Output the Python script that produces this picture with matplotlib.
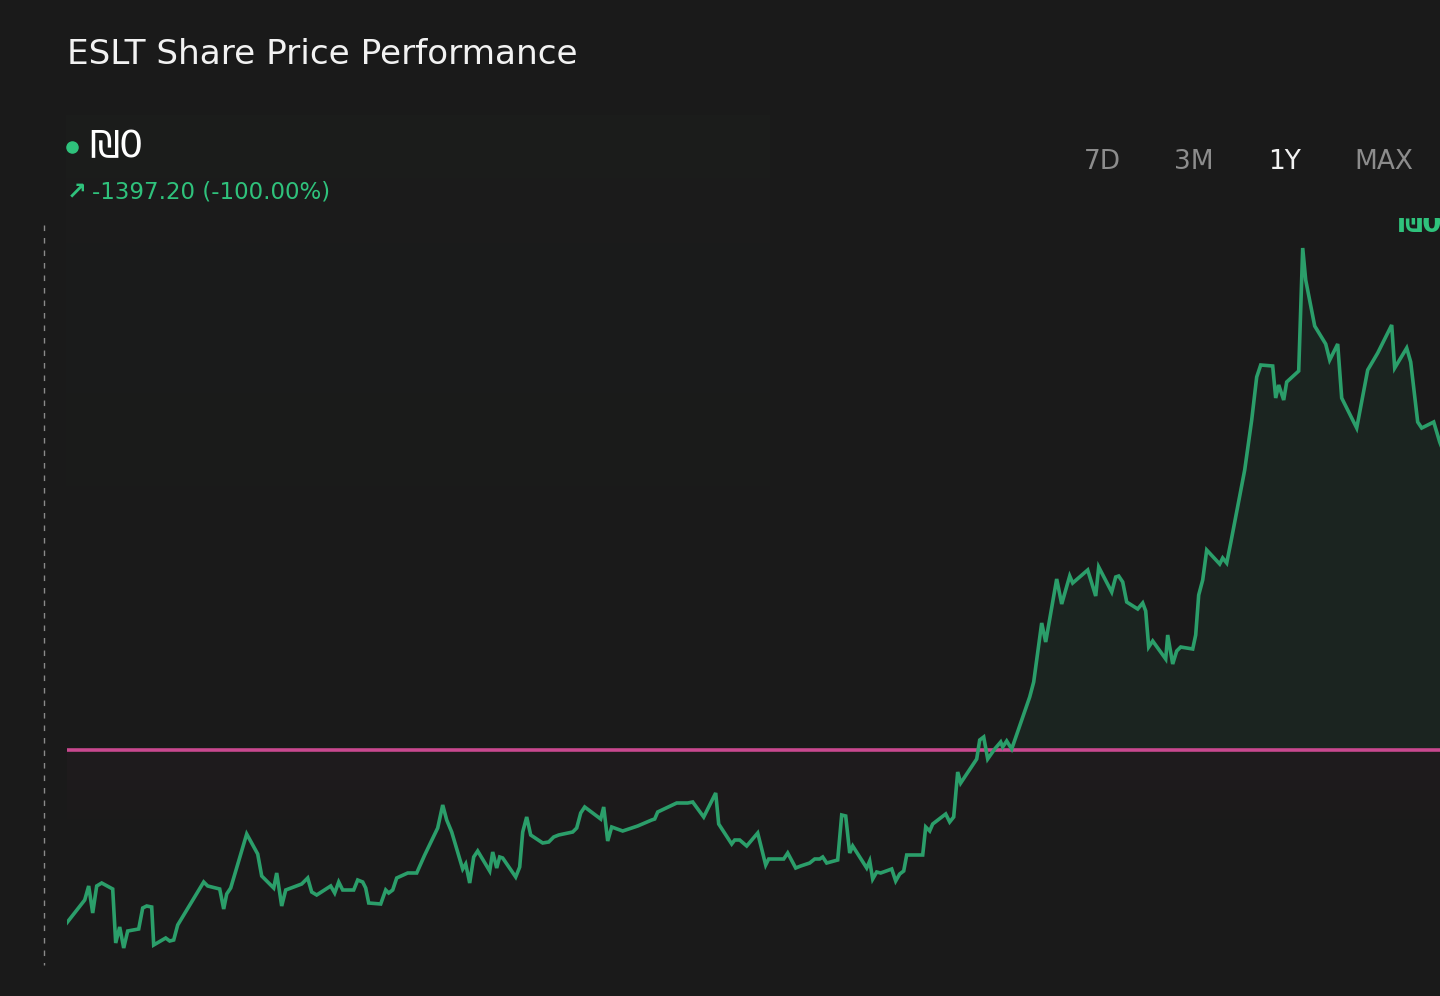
import numpy as np
import matplotlib.pyplot as plt
from matplotlib.lines import Line2D

# ESLT 1Y price series (time offset, price)
t = [0, 18, 22, 26, 30, 35, 46, 49, 53, 57, 61, 72, 76, 80, 85, 87, 99, 103, 107, 111,
     137, 141, 153, 157, 160, 164, 180, 186, 191, 195, 207, 210, 215, 219, 235, 241, 245,
     250, 264, 268, 272, 276, 287, 291, 296, 299, 302, 314, 319, 322, 326, 330, 341, 350,
     358, 371, 376, 380, 385, 396, 399, 403, 407, 411,
     423, 426, 430, 433, 436, 449, 453, 456, 460, 464, 476, 482, 487, 492, 506, 510, 514,
     518, 534, 537, 541, 545, 556, 571, 585, 588, 591, 610, 621, 626, 637, 649, 652, 665,
     668, 673, 680, 691, 699, 702, 717, 721, 729, 734, 743, 748, 753, 756, 760, 771, 775,
     779, 783, 786, 800, 803, 806, 810, 814, 825, 829, 833, 837, 840, 856, 859, 863, 866,
     879, 883, 887, 891, 894, 910, 913, 917, 921, 928, 934, 936, 940, 945, 963, 967, 975,
     979, 990, 995, 1003, 1006, 1021, 1029, 1032, 1045, 1049, 1052, 1056, 1060, 1071, 1076,
     1079, 1082, 1086, 1099, 1101, 1106, 1110, 1114, 1126, 1129, 1132, 1136, 1140,
     1153, 1156, 1160, 1164, 1178, 1185, 1190, 1194, 1206, 1209, 1212, 1217, 1220, 1232,
     1236, 1239, 1248, 1259, 1263, 1271, 1275, 1290, 1301, 1311, 1325, 1328, 1340, 1344,
     1351, 1355, 1367, 1373, 1380]
price = [1077, 1100, 1114, 1087, 1114, 1117, 1111, 1057, 1073, 1052, 1069, 1071, 1092, 1094,
         1093, 1055, 1062, 1059, 1060, 1075, 1118, 1114, 1111, 1091, 1106, 1112, 1166, 1155,
         1146, 1124, 1112, 1127, 1094, 1110, 1116, 1122, 1108, 1105, 1114, 1107, 1118, 1110,
         1110, 1120, 1118, 1112, 1097, 1096, 1110, 1107, 1110, 1122, 1127, 1127, 1145, 1172,
         1195, 1180, 1168, 1131, 1136, 1117, 1143, 1149,
         1129, 1148, 1132, 1143, 1142, 1123, 1133, 1168, 1183, 1165, 1157, 1158, 1163, 1165,
         1168, 1172, 1187, 1193, 1181, 1193, 1159, 1173, 1169, 1174, 1180, 1181, 1188, 1197,
         1197, 1198, 1183, 1207, 1176, 1156, 1160, 1160, 1154, 1167, 1135, 1141, 1141, 1147,
         1132, 1134, 1137, 1141, 1141, 1143, 1137, 1140, 1185, 1184, 1147, 1154, 1132, 1139,
         1121, 1128, 1127, 1131, 1119, 1126, 1129, 1145, 1145, 1173, 1169, 1176, 1186, 1178,
         1183, 1228, 1217, 1241, 1260, 1263, 1241, 1251, 1258, 1253, 1259, 1251, 1303, 1318,
         1377, 1358, 1421, 1396, 1424, 1417, 1430, 1404, 1433, 1408, 1423, 1424, 1418, 1398,
         1391, 1397, 1389, 1353, 1359, 1341, 1365, 1336, 1349, 1353, 1351, 1365, 1405, 1420,
         1450,
         1436, 1442, 1437, 1457, 1530, 1580, 1623, 1635, 1634, 1602, 1615, 1600, 1618, 1629,
         1752, 1720, 1674, 1656, 1640, 1656, 1602, 1572, 1630, 1647, 1675, 1632, 1652, 1638,
         1578, 1572, 1578, 1558, 1540]
ref_price = 1250
ranges = ["7D", "3M", "1Y", "MAX"]
active_range = "1Y"

BG = "#1a1a1a"
GREEN = "#2b9e6a"
TXT_GREEN = "#2fc27c"
PINK = "#c9488f"

W, H = 1440, 996
fig = plt.figure(figsize=(W / 100, H / 100), dpi=100, facecolor=BG)


def fx(x):
    return x / W


def fy(y):
    return 1 - y / H


# very faint panel behind header / left part of the plot
bg_ax = fig.add_axes([fx(66), fy(830), fx(770 - 66), (830 - 115) / H])
bg_ax.set_axis_off()
grad = np.zeros((100, 2, 4))
grad[..., :3] = np.array([0.16, 0.2, 0.18])[None, None, :]
grad[..., 3] = np.linspace(0.09, 0.0, 100)[:, None]
bg_ax.imshow(grad, aspect="auto", extent=[0, 1, 0, 1])

ax = fig.add_axes([fx(66.7), fy(965), 1 - fx(66.7), (965 - 218) / H])
ax.set_facecolor("none")
t_arr = np.array(t)
p_arr = np.array(price)

ax.fill_between(t_arr, p_arr, ref_price, where=p_arr >= ref_price, interpolate=True,
                color=GREEN, alpha=0.08, lw=0)
# pinkish glow under the reference line
glow = np.zeros((60, 2, 4))
glow[..., :3] = np.array([0.79, 0.28, 0.56])[None, None, :]
glow[..., 3] = np.linspace(0.035, 0.0, 60)[:, None]
ax.imshow(glow, aspect="auto", extent=[0, 1400, ref_price - 90, ref_price], zorder=1)

ax.axhline(ref_price, color=PINK, lw=2.6, zorder=2)
ax.plot(t_arr, p_arr, color=GREEN, lw=2.6, solid_joinstyle="miter", zorder=3)
# last-price tag, partly hidden under the header
ax.text(1331, 1762, "₪0.00", color=TXT_GREEN, fontsize=20, fontweight="bold",
        va="bottom", ha="left", clip_on=True, zorder=4)

ax.set_xlim(0, 1373.3)
ax.set_ylim(2000 - 965, 2000 - 218)
ax.set_axis_off()

# dashed vertical cursor line on the left
fig.add_artist(Line2D([fx(44), fx(44)], [fy(225), fy(965)], color="#8a8a8a", lw=1,
                      ls=(0, (4, 5)), transform=fig.transFigure))

fig.text(fx(67), fy(54), "ESLT Share Price Performance", color="#f2f2f2",
         fontsize=24.7, va="center", ha="left")

fig.add_artist(Line2D([fx(72)], [fy(147)], marker="o", ms=8, color=TXT_GREEN, lw=0,
                      transform=fig.transFigure))
fig.text(fx(89), fy(147), "₪0", color="#ffffff", fontsize=27.5, va="center", ha="left")
fig.text(fx(67), fy(192), "↗", color=TXT_GREEN, fontsize=17, fontweight="bold",
         va="center", ha="left")
fig.text(fx(92), fy(192), "-1397.20 (-100.00%)", color=TXT_GREEN, fontsize=16.5,
         va="center", ha="left")

centers = [1102, 1194, 1285, 1384]
for label, cx in zip(ranges, centers):
    col = "#f2f2f2" if label == active_range else "#8c8c8c"
    fig.text(fx(cx), fy(162), label, color=col, fontsize=19, va="center", ha="center")

fig.savefig("out.png", dpi=100, facecolor=BG)
